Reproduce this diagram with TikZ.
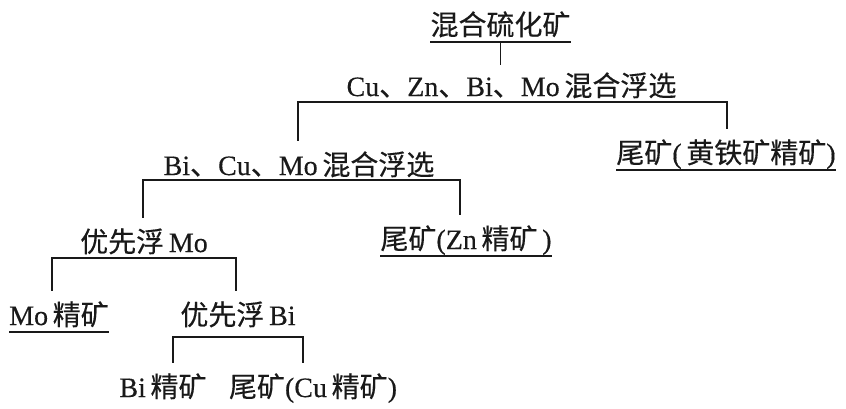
\documentclass[tikz,border=0pt]{standalone}
\usepackage{fontspec}
\setmainfont{Liberation Serif}[FakeBold=0.35]
\newfontfamily\cjk{Noto Sans CJK SC}[FakeBold=0.3]
\newcommand{\zhs}[1]{{\cjk #1}}
\begin{document}
\begin{tikzpicture}[x=1pt,y=-1pt,
  lbl/.style={anchor=base,inner xsep=0pt,inner ysep=11pt,text height=23pt,text depth=0pt,
    font=\fontsize{28}{30}\selectfont,text=black!90},
  ln/.style={line width=1.6pt,draw=black!90}]
\fill[white] (0,0) rectangle (846,408);
\useasboundingbox (0,0) rectangle (846,408);
% nodes
\node[lbl] (top)   at (500.5,35) {\zhs{混合硫化矿}};
\node[lbl] (cu)    at (511.5,96) {Cu\zhs{、}Zn\zhs{、}Bi\zhs{、}Mo\,\zhs{混合浮选}};
\node[lbl] (tail1) at (726,163)  {\zhs{尾矿}(\,\zhs{黄铁矿精矿})};
\node[lbl] (bicu)  at (299,175)  {Bi\zhs{、}Cu\zhs{、}Mo\,\zhs{混合浮选}};
\node[lbl] (pmo)   at (144,252)  {\zhs{优先浮}\,Mo};
\node[lbl] (tail2) at (466,249)  {\zhs{尾矿}(Zn\,\zhs{精矿}\,)};
\node[lbl] (mo)    at (59,325)   {Mo\,\zhs{精矿}};
\node[lbl] (pbi)   at (238,325)  {\zhs{优先浮}\,Bi};
\node[lbl] (bi)    at (163,397)  {Bi\,\zhs{精矿}};
\node[lbl] (tail3) at (313,397)  {\zhs{尾矿}(Cu\,\zhs{精矿})};
% underlines
\foreach \n in {top,tail1,tail2,mo}
  \draw[ln] ([yshift=-7pt]\n.base west) -- ([yshift=-7pt]\n.base east);
% bar coordinates
\coordinate (b1l) at (298,102); \coordinate (b1r) at (727,102);
\coordinate (b2l) at (143,180); \coordinate (b2r) at (460,180);
\coordinate (b3l) at (52,258);  \coordinate (b3r) at (236,258);
\coordinate (b4l) at (173,337); \coordinate (b4r) at (303,337);
% connectors
\draw[ln] ([yshift=-7pt]top.base) -- ([yshift=-3pt]top.base |- cu.north);
\draw[ln] (b1l |- bicu.north) -- (b1l) -- (b1r) -- (b1r |- tail1.north);
\draw[ln] (b2l |- pmo.north) -- (b2l) -- (b2r) -- (b2r |- tail2.north);
\draw[ln] (b3l |- mo.north) -- (b3l) -- (b3r) -- (b3r |- pbi.north);
\draw[ln] (b4l |- bi.north) -- (b4l) -- (b4r) -- (b4r |- tail3.north);
\end{tikzpicture}
\end{document}
